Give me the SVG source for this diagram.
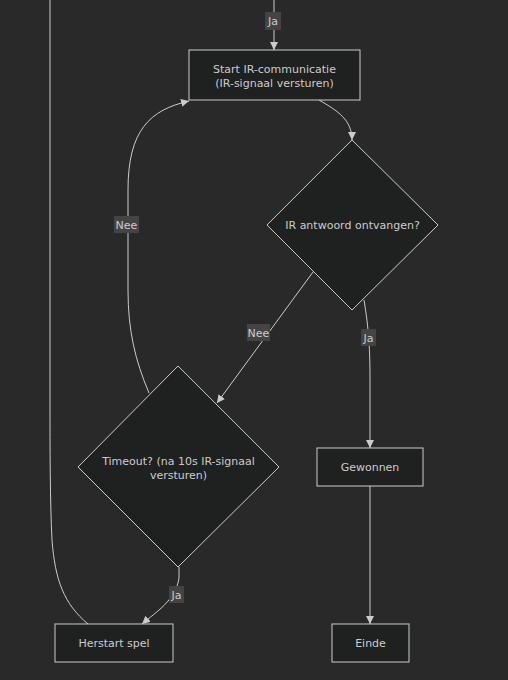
<svg xmlns="http://www.w3.org/2000/svg" width="508" height="680" viewBox="0 0 508 680">
<style>
.node rect, .node polygon { fill: #1f2020; stroke: #cccccc; stroke-width: 1; }
.node text { fill: #cccccc; font-family: "DejaVu Sans", sans-serif; font-size: 11px; text-anchor: middle; }
.edge { fill: none; stroke: #cccccc; stroke-width: 1; }
.lbl rect { fill: #444444; }
.lbl text { fill: #cccccc; font-family: "DejaVu Sans", sans-serif; font-size: 11px; text-anchor: middle; }
</style>
<defs>
<marker id="arr" viewBox="0 0 10 10" refX="10" refY="5" markerUnits="userSpaceOnUse" markerWidth="8" markerHeight="8" orient="auto">
<path d="M0,0 L10,5 L0,10 z" fill="#cccccc"/>
</marker>
</defs>
<rect x="0" y="0" width="508" height="680" fill="#292929"/>
<g id="connectors">
<path class="edge" d="M274,0 L274,50" marker-end="url(#arr)"/>
<path class="edge" d="M319,100 C338,111 352,120 352,140" marker-end="url(#arr)"/>
<path class="edge" d="M313,272 L217,403" marker-end="url(#arr)"/>
<path class="edge" d="M364,300 C369,330 370,350 370,380 L370,448" marker-end="url(#arr)"/>
<path class="edge" d="M149,393 C135,360 128,330 128,290 L128,190 C128,130 150,110 189,101" marker-end="url(#arr)"/>
<path class="edge" d="M179,567 L179,578 C176,600 156,612 142,624" marker-end="url(#arr)"/>
<path class="edge" d="M88,624 C64,604 55,580 52,540 C50,500 50,450 50,400 L50,0"/>
<path class="edge" d="M370,486 L370,624" marker-end="url(#arr)"/>
<g class="lbl"><rect x="265" y="12" width="16" height="18"/><text x="273" y="25">Ja</text></g>
<g class="lbl"><rect x="247" y="324" width="23" height="17"/><text x="258.5" y="337">Nee</text></g>
<g class="lbl"><rect x="361" y="329" width="15" height="17"/><text x="368.5" y="342">Ja</text></g>
<g class="lbl"><rect x="114" y="216" width="25" height="17"/><text x="126.5" y="229">Nee</text></g>
<g class="lbl"><rect x="169" y="586" width="15" height="17"/><text x="176.5" y="599">Ja</text></g>
</g>
<g id="start" class="node"><rect x="189" y="50" width="171" height="50"/><text x="274.5" y="73">Start IR-communicatie</text><text x="274.5" y="87">(IR-signaal versturen)</text></g>
<g id="ontvangen" class="node"><polygon points="352,140 438,225 352,310 267,225"/><text x="352.5" y="229">IR antwoord ontvangen?</text></g>
<g id="timeout" class="node"><polygon points="178,366 279,467 178,567 78,467"/><text x="178.5" y="465">Timeout? (na 10s IR-signaal</text><text x="178.5" y="479">versturen)</text></g>
<g id="gewonnen" class="node"><rect x="317" y="448" width="106" height="38"/><text x="370" y="471">Gewonnen</text></g>
<g id="herstart" class="node"><rect x="55" y="624" width="118" height="38"/><text x="114" y="647">Herstart spel</text></g>
<g id="einde" class="node"><rect x="332" y="624" width="77" height="38"/><text x="370.5" y="647">Einde</text></g>
</svg>
